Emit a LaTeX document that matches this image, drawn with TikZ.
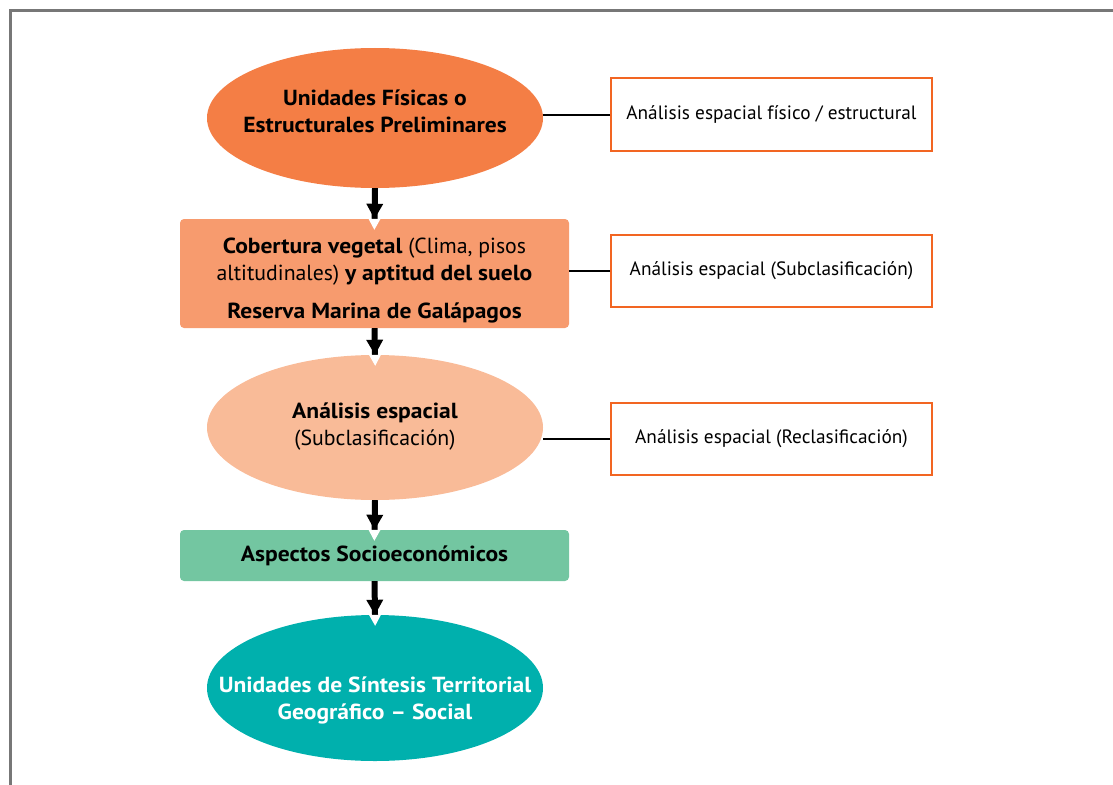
\documentclass[tikz,border=0pt]{standalone}
\usepackage{fontspec}
\setmainfont{PT Sans}[BoldFeatures={FakeStretch=1.08}]
\usetikzlibrary{shapes.geometric,arrows.meta}

\definecolor{frameGray}{HTML}{777777}
\definecolor{orangeA}{HTML}{F47E45}
\definecolor{orangeB}{HTML}{F79B6E}
\definecolor{peach}{HTML}{F9BB98}
\definecolor{mint}{HTML}{73C6A1}
\definecolor{teal}{HTML}{00B0AD}
\definecolor{sideLine}{HTML}{F26522}

\tikzset{
  oval/.style={ellipse, draw=none, minimum width=336pt, inner sep=0pt},
  panel/.style={rectangle, rounded corners=4pt, draw=none, minimum width=389pt, inner sep=0pt},
  sidebox/.style={rectangle, draw=sideLine, line width=2pt, fill=white,
    minimum width=321pt, minimum height=72pt, inner sep=0pt,
    font=\fontsize{19.3}{23}\selectfont},
  maintext/.style={align=center, inner sep=0pt, font=\fontsize{21.8}{27}\selectfont},
  flow/.style={line width=6pt,
    -{Triangle[length=15pt,width=17pt,line width=0pt,sep=0pt,color=black,fill=black]
      Triangle[length=11pt,width=12pt,line width=0pt,color=white,fill=white]},
    shorten >=-11pt},
  tie/.style={line width=2pt, black}
}

\begin{document}
\begin{tikzpicture}[x=1pt,y=-1pt]
\useasboundingbox (0,0) rectangle (1113,784);

% outer frame (open to the right and bottom)
\draw[frameGray, line width=2.5pt] (10.5,800) -- (10.5,10.5) -- (1130,10.5);

% main column
\node[oval, fill=orangeA, minimum height=140pt] (e1) at (375,118) {};
\node[maintext] (t1) at (375,111) {\textbf{Unidades Físicas o}\\\textbf{Estructurales Preliminares}};

\node[panel, fill=orangeB, minimum height=109pt] (b2) at (374.5,273.5) {};
\node[maintext] (t2) at (374.5,281) {\textbf{Cobertura vegetal} (Clima, pisos\\altitudinales) \textbf{y aptitud del suelo}\\[11pt]\textbf{Reserva Marina de Galápagos}};

\node[oval, fill=peach, minimum height=145pt] (e3) at (375,427.5) {};
\node[maintext] (t3) at (375,427) {\textbf{Análisis espacial}\\(Subclasificación)};

\node[panel, fill=mint, minimum height=51pt] (b4) at (374.5,555.5) {};
\node[maintext] (t4) at (374.5,556) {\textbf{Aspectos Socioeconómicos}};

\node[oval, fill=teal, minimum height=146pt] (e5) at (375,688) {};
\node[maintext, text=white] (t5) at (375,700) {\textbf{Unidades de Síntesis Territorial}\\\textbf{Geográfico – Social}};

% side boxes
\node[sidebox, minimum height=73pt] (s1) at (771.5,114.5) {Análisis espacial físico / estructural};
\node[sidebox] (s2) at (771.5,271) {Análisis espacial (Subclasificación)};
\node[sidebox] (s3) at (771.5,439) {Análisis espacial (Reclasificación)};

% ties to the side boxes
\draw[tie] (s1.west) -- (e1.east |- s1.west);
\draw[tie] (s2.west) -- (b2.east |- s2.west);
\draw[tie] (s3.west) -- (e3.east |- s3.west);

% downward flow
\draw[flow] (e1.south) -- (b2.north);
\draw[flow] (b2.south) -- (e3.north);
\draw[flow] (e3.south) -- (b4.north);
\draw[flow] (b4.south) -- (e5.north);
\end{tikzpicture}
\end{document}
